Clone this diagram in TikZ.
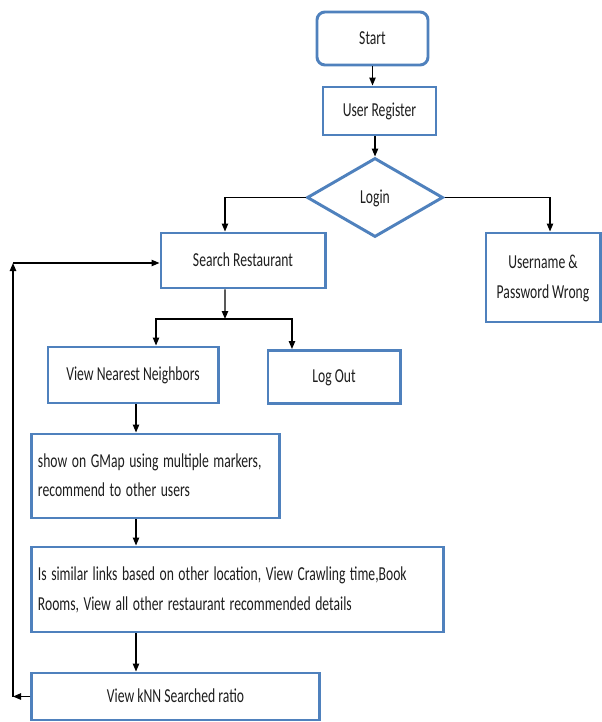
\documentclass[tikz,border=0pt]{standalone}
\usepackage{fontspec}
\setmainfont{Carlito}
\usepackage{graphicx}
\usepackage{tikz}
\usetikzlibrary{shapes.geometric, arrows.meta, positioning, calc}
\definecolor{boxblue}{HTML}{4F81BD}
\definecolor{inkgray}{HTML}{1E1E1E}
\newcommand{\tall}[1]{\scalebox{1}[1.45]{\begin{tabular}{@{}c@{}}#1\end{tabular}}}
\newcommand{\tallL}[1]{\scalebox{1}[1.45]{\begin{tabular}{@{}l@{}}#1\end{tabular}}}

\begin{document}
\begin{tikzpicture}[
  x=0.025cm, y=-0.025cm,
  every node/.style={font=\fontsize{9.7}{14.7}\selectfont, text=inkgray},
  flowstep/.style={
    rectangle, inner sep=0pt,
    text centered, draw=boxblue, line width=2.1pt,
    fill=white,
  },
  startstep/.style={flowstep, rounded corners=0.2cm},
  decision/.style={
    diamond, aspect=1.72, inner sep=0pt,
    minimum width=3.4cm, minimum height=1.975cm,
    draw=boxblue, line width=2.1pt, fill=white,
  },
  arrow/.style={-{Triangle[length=0.2cm, width=0.16cm]}, line width=0.9pt, color=black},
]
\useasboundingbox (0,0) rectangle (601,722);

\node[startstep, minimum width=2.775cm, minimum height=1.325cm] (start) at (372.5,38.5) {\tall{Start}};
\node[flowstep, minimum width=2.825cm, minimum height=1.2cm] (register) at (379.5,111) {\tall{User Register}};
\node[decision] (login) at (375,197.5) {\tall{Login}};
\node[flowstep, minimum width=4.1cm, minimum height=1.375cm] (search) at (243,260.5) {\tall{Search Restaurant}};
\node[flowstep, minimum width=2.85cm, minimum height=2.225cm] (wrong) at (543,277.5) {\tall{Username \&\\Password Wrong}};
\node[flowstep, minimum width=4.25cm, minimum height=1.4cm] (nearest) at (133,375) {\tall{View Nearest Neighbors}};
\node[flowstep, minimum width=3.3cm, minimum height=1.325cm] (logout) at (334,377) {\tall{Log Out}};
\node[flowstep, text width=5.875cm, inner xsep=0.15cm, minimum height=2.1cm, align=left] (gmap) at (155.5,476)
  {\tallL{show on GMap using multiple markers,\\recommend to other users}};
\node[flowstep, text width=9.975cm, inner xsep=0.15cm, minimum height=2.125cm, align=left] (similar) at (237.5,589.5)
  {\tallL{Is similar links based on other location, View Crawling time,Book\\Rooms, View all other restaurant recommended details}};
\node[flowstep, minimum width=7.175cm, minimum height=1.175cm] (knn) at (175.5,696.5) {\tall{View kNN Searched ratio}};

% top of the flow
\draw[arrow] (start.south) -- (start.south |- register.north);
\draw[arrow] (register.south -| login.north) -- (login.north);

% login branches
\draw[arrow] (login.west) -| ([xshift=-0.45cm]search.north);
\draw[arrow] (login.east) -| ([xshift=0.175cm]wrong.north);

% search splits
\coordinate (split) at (225,319);
\draw[arrow] ([xshift=-0.45cm]search.south) -- (split);
\draw[arrow] (split) -| ([xshift=0.575cm]nearest.north);
\draw[arrow] (split) -| ([xshift=-1.05cm]logout.north);

% left column
\coordinate (col) at (136,0);
\draw[arrow] (col |- nearest.south) -- (col |- gmap.north);
\draw[arrow] (col |- gmap.south) -- (col |- similar.north);
\draw[arrow] (col |- similar.south) -- (col |- knn.north);

% back to search
\coordinate (looptop) at (13,263);
\draw[arrow] (knn.west) -- (knn.west -| looptop);
\draw[arrow] (knn.west -| looptop) -- (looptop);
\draw[arrow] (looptop) -- (looptop -| search.west);

\end{tikzpicture}
\end{document}
